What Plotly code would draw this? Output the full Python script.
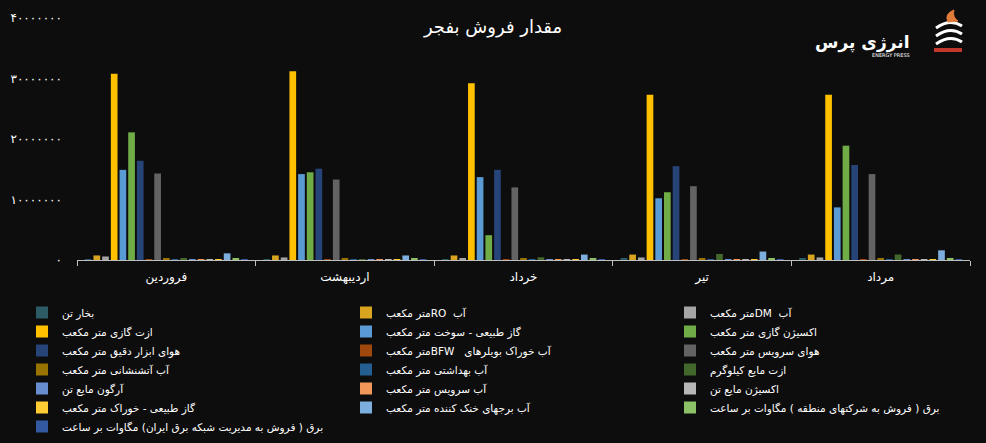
import plotly.graph_objects as go

# ---------------- data ----------------
months = ["فروردین", "اردیبهشت", "خرداد", "تیر", "مرداد"]

series_names = [
    "بخار تن",
    "\u202bآب  ROمتر مکعب\u202c",
    "\u202bآب  DMمتر مکعب\u202c",
    "ازت گازی متر مکعب",
    "گاز طبیعی - سوخت متر مکعب",
    "اکسیژن گازی متر مکعب",
    "هوای ابزار دقیق متر مکعب",
    "\u202bآب خوراک بویلرهای   BFWمتر مکعب\u202c",
    "هوای سرویس متر مکعب",
    "آب آتشنشانی متر مکعب",
    "آب بهداشتی متر مکعب",
    "ازت مایع کیلوگرم",
    "آرگون مایع تن",
    "آب سرویس متر مکعب",
    "اکسیژن مایع تن",
    "گاز طبیعی - خوراک متر مکعب",
    "آب برجهای خنک کننده متر مکعب",
    "\u202bبرق ( فروش به شرکتهای منطقه ) مگاوات بر ساعت\u202c",
    "\u202bبرق ( فروش به مدیریت شبکه برق ایران) مگاوات بر ساعت\u202c",
]

bukhar = [150000, 100000, 150000, 200000, 200000]
ab_ro = [750000, 750000, 750000, 900000, 900000]
ab_dm = [580000, 420000, 250000, 420000, 420000]
azot_gazi = [30800000, 31200000, 29200000, 27300000, 27300000]
gaz_sookht = [14900000, 14200000, 13700000, 10200000, 8700000]
oxygen_gazi = [21100000, 14500000, 4100000, 11200000, 18900000]
hava_abzar = [16400000, 15100000, 14900000, 15500000, 15700000]
ab_bfw = [100000, 100000, 100000, 100000, 100000]
hava_service = [14300000, 13300000, 12000000, 12200000, 14200000]
ab_atash = [200000, 200000, 250000, 200000, 200000]
ab_behdasht = [100000, 100000, 100000, 100000, 100000]
azot_mayea = [300000, 100000, 450000, 1000000, 900000]
argon = [100000, 100000, 100000, 100000, 100000]
ab_service = [100000, 100000, 100000, 100000, 100000]
oxygen_mayea = [100000, 100000, 100000, 100000, 100000]
gaz_khorak = [150000, 150000, 150000, 150000, 150000]
ab_borj = [1100000, 750000, 900000, 1400000, 1600000]
bargh_mantaghe = [300000, 300000, 200000, 300000, 300000]
bargh_shabake = [100000, 100000, 100000, 100000, 100000]

series_values = [
    bukhar, ab_ro, ab_dm, azot_gazi, gaz_sookht, oxygen_gazi, hava_abzar,
    ab_bfw, hava_service, ab_atash, ab_behdasht, azot_mayea, argon,
    ab_service, oxygen_mayea, gaz_khorak, ab_borj, bargh_mantaghe, bargh_shabake,
]

colors = [
    "#2C5B66", "#D9A520", "#A5A5A5", "#FFC000", "#5B9BD5", "#70AD47",
    "#264478", "#9E480E", "#636363", "#997300", "#255E91", "#43682B",
    "#698ED0", "#F1975A", "#B7B7B7", "#FFCD33", "#7CAFDD", "#8CC168", "#335AA1",
]

y_tickvals = [0, 10000000, 20000000, 30000000, 40000000]
_fa = str.maketrans("0123456789", "۰۱۲۳۴۵۶۷۸۹")
y_ticktext = [str(v).translate(_fa) for v in y_tickvals]

title_text = "مقدار فروش بفجر"
logo_text = "انرژی پرس"
logo_sub = "ENERGY PRESS"

# ---------------- figure ----------------
FONT = "DejaVu Sans"
W, H = 986, 443
L, R, T, B = 77, 16, 18, 183
PW, PH = W - L - R, H - T - B


def px_x(x):
    return (x - L) / PW


def px_y(y):
    return (H - B - y) / PH


fig = go.Figure()
for name, vals, col in zip(series_names, series_values, colors):
    fig.add_trace(go.Bar(x=months, y=vals, name=name, marker_color=col,
                         marker_line_width=0))

fig.update_layout(
    width=W, height=H,
    margin=dict(l=L, r=R, t=T, b=B, autoexpand=False),
    paper_bgcolor="#0d0d0d", plot_bgcolor="#0d0d0d",
    barmode="group", bargap=0.076, bargroupgap=0.23,
    font=dict(family=FONT, color="#ffffff", size=12),
    title=dict(text=title_text, x=0.5, xanchor="center", y=1 - 27 / H,
               yanchor="middle", yref="container",
               font=dict(family=FONT, size=18, color="#ffffff")),
    showlegend=True,
    legend=dict(orientation="h", x=px_x(22), xanchor="left",
                y=px_y(298), yanchor="top",
                entrywidth=279, entrywidthmode="pixels",
                font=dict(family=FONT, size=10.5, color="#ffffff"),
                bgcolor="rgba(0,0,0,0)", traceorder="normal"),
)

fig.update_xaxes(
    showline=True, linecolor="#bfbfbf", linewidth=1,
    ticks="outside", tickson="boundaries", ticklen=5, tickcolor="#bfbfbf",
    showgrid=False, zeroline=False, ticklabelstandoff=6,
    tickfont=dict(family=FONT, size=12, color="#ffffff"),
)
fig.update_yaxes(
    range=[0, 40000000], tickvals=y_tickvals, ticktext=y_ticktext,
    showgrid=False, zeroline=False, showline=False, ticks="",
    ticklabelstandoff=14,
    tickfont=dict(family=FONT, size=12, color="#ffffff"),
)

# logo approximation (text + simple strokes)
fig.add_annotation(text=logo_text, xref="paper", yref="paper",
                   x=px_x(912), xanchor="right", y=px_y(42), yanchor="middle",
                   showarrow=False,
                   font=dict(family=FONT, size=17, color="#ffffff", weight="bold"))
fig.add_annotation(text=logo_sub, xref="paper", yref="paper",
                   x=px_x(912), xanchor="right", y=px_y(55), yanchor="middle",
                   showarrow=False,
                   font=dict(family=FONT, size=5, color="#ffffff"))
for i, yy in enumerate([24, 32, 40]):
    fig.add_shape(type="path", xref="paper", yref="paper",
                  path=(f"M {px_x(936)},{px_y(yy + 4)} "
                        f"Q {px_x(950)},{px_y(yy - 6)} {px_x(962)},{px_y(yy + 2)}"),
                  line=dict(color="#ffffff", width=3))
fig.add_shape(type="path", xref="paper", yref="paper",
              path=(f"M {px_x(948)},{px_y(22)} Q {px_x(944)},{px_y(14)} "
                    f"{px_x(954)},{px_y(10)} Q {px_x(952)},{px_y(17)} {px_x(958)},{px_y(21)} Z"),
              fillcolor="#e07b39", line=dict(color="#e07b39", width=1))
fig.add_shape(type="path", xref="paper", yref="paper",
              path=(f"M {px_x(934)},{px_y(48)} L {px_x(962)},{px_y(48)} "
                    f"L {px_x(962)},{px_y(52)} L {px_x(934)},{px_y(52)} Z"),
              fillcolor="#c0392b", line=dict(width=0))

fig.write_html("out.html")
